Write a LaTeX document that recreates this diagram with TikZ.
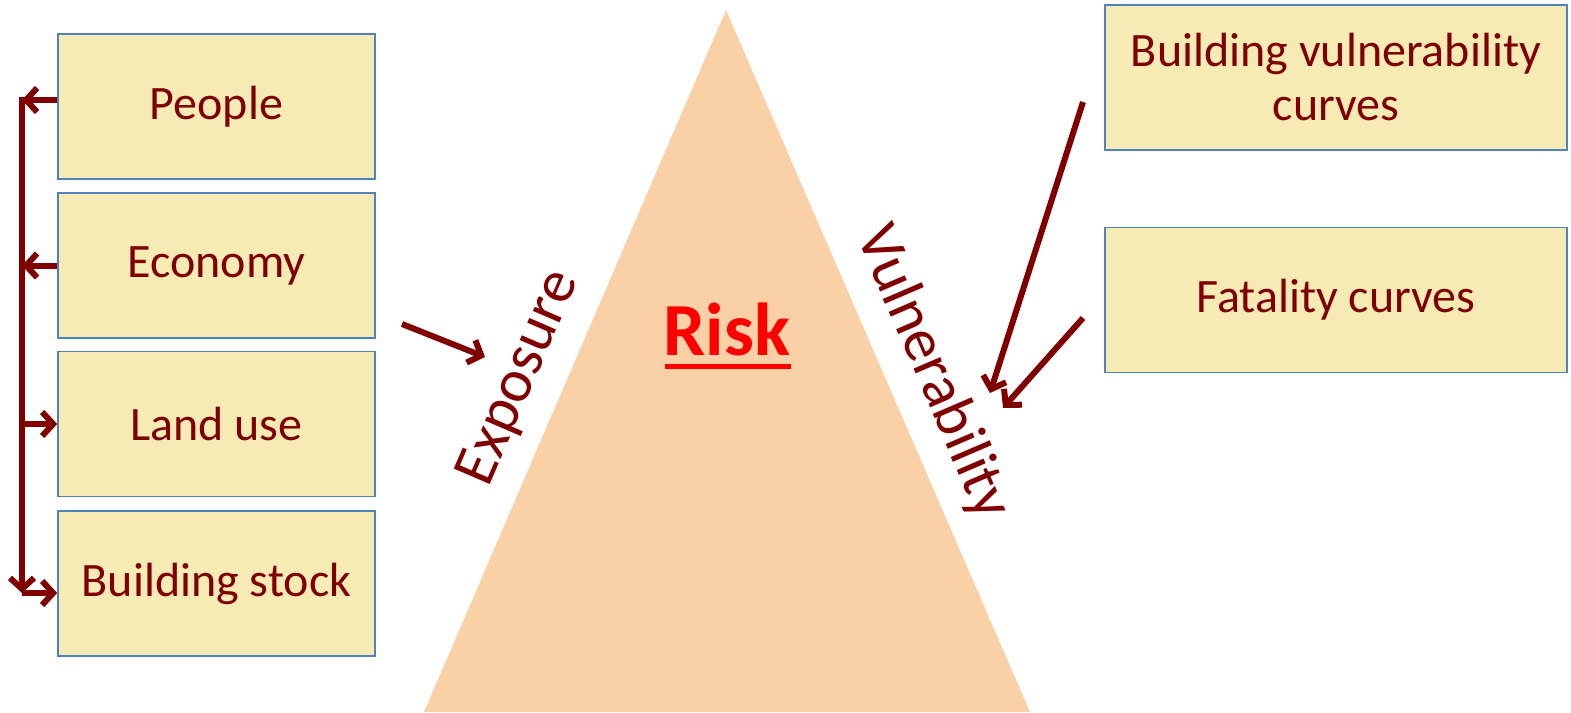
\documentclass[tikz,border=0pt]{standalone}
\usepackage{fontspec}
\setmainfont{Carlito}
\usetikzlibrary{arrows.meta,calc}
\definecolor{boxfill}{HTML}{F6EBB5}
\definecolor{boxline}{HTML}{4F81BD}
\definecolor{tri}{HTML}{FAD0A6}
\definecolor{dred}{HTML}{800000}
\begin{document}
\begin{tikzpicture}[x=1pt,y=-1pt,
  box/.style={draw=boxline,line width=1.6pt,fill=boxfill,minimum width=317pt,minimum height=145pt,inner sep=0pt,text=dred,font=\fontsize{48}{54}\selectfont,align=center},
  rbox/.style={box,minimum width=462pt},
  arr/.style={draw=dred,line width=6pt,-{Straight Barb[length=11pt,width=24pt,line width=6pt]}},
  lbl/.style={text=dred,font=\fontsize{61}{66}\selectfont,inner sep=0pt}]
\useasboundingbox (0,0) rectangle (1571,712);
\fill[tri] (726,10) -- (1030,712) -- (424,712) -- cycle;
\node[box] (people) at (216.5,106.5) {People};
\node[box] (economy) at (216.5,265.5) {Economy};
\node[box] (land) at (216.5,424) {Land use};
\node[box] (stock) at (216.5,583.5) {Building stock};
\node[rbox] (bvc) at (1336,77.5) {Building vulnerability\\curves};
\node[rbox] (fat) at (1336,300) {Fatality curves};
\node[text=red,font=\fontsize{75}{80}\selectfont\bfseries,inner sep=0pt,anchor=base] (risk) at (727,355) {Risk};
\draw[red,line width=5pt] (665,366) -- (791,366);
\node[lbl,rotate=66.7] (exposure) at (520,378) {Exposure};
\node[lbl,rotate=-66.7] (vuln) at (933,373) {Vulnerability};
\coordinate (top) at (22,100);
\coordinate (bot) at (22,593);
\coordinate (ein) at (402,324);
\coordinate (eout) at (485,357);
\coordinate (b1) at (1083,102);
\coordinate (b1e) at (990,393);
\coordinate (f1) at (1083,318);
\coordinate (f1e) at (1003,408);
\draw[arr] (top -| people.west) -- (top);
\draw[arr] (economy.west) -- (economy.west -| top);
\draw[arr] (land.west -| top) -- (land.west);
\draw[arr] ([yshift=3pt]top) -- (bot);
\draw[arr] (bot) -- (bot -| stock.west);
\draw[arr] (ein) -- (eout);
\draw[arr] (b1) -- (b1e);
\draw[arr] (f1) -- (f1e);
\end{tikzpicture}
\end{document}
